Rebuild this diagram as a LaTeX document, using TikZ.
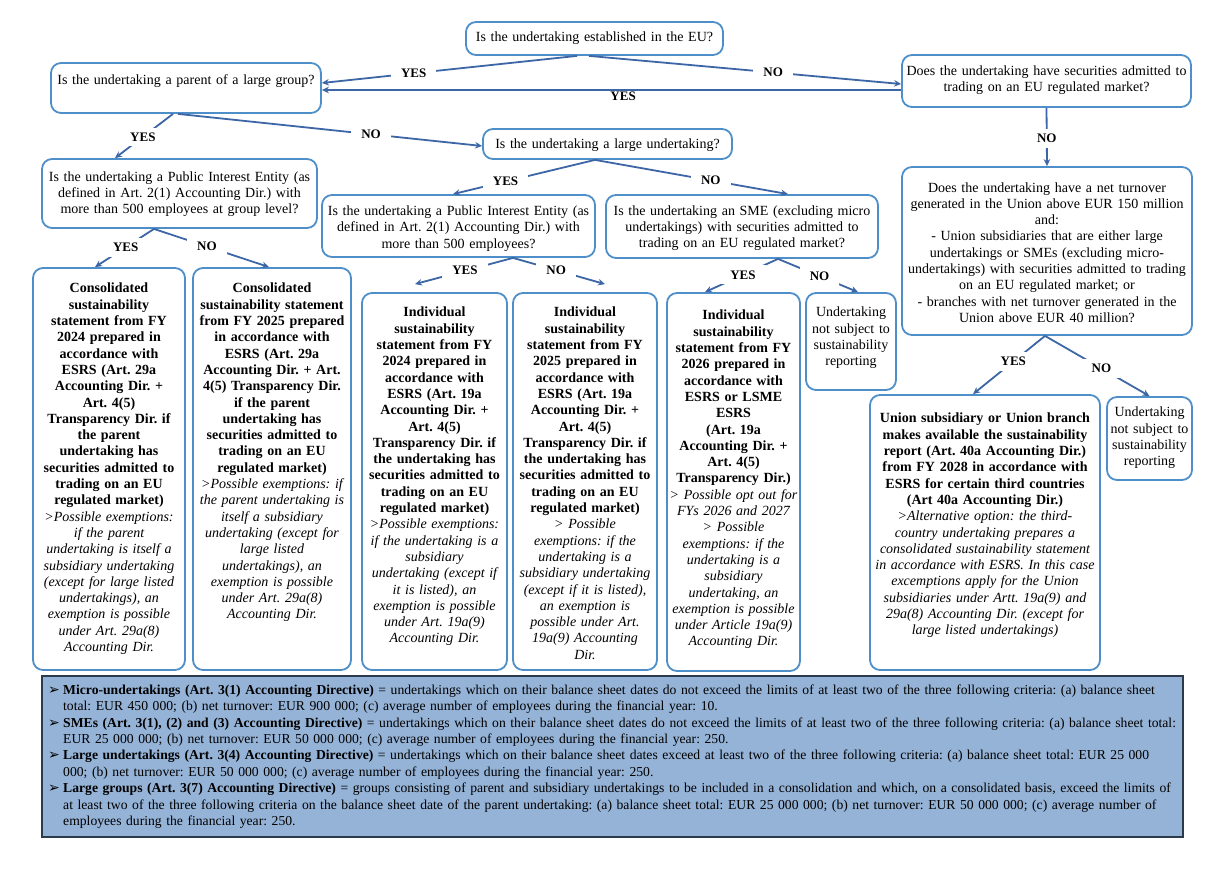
\documentclass[tikz,border=0pt]{standalone}
\usepackage{fontspec}
\setmainfont{Liberation Serif}
\newfontfamily\dejavu{DejaVu Sans}
\usetikzlibrary{arrows.meta}
\definecolor{boxblue}{HTML}{4F8FC9}
\definecolor{arrblue}{HTML}{3C66A6}
\definecolor{legfill}{HTML}{95B3D7}
\definecolor{legline}{HTML}{2B3A4C}
\newcommand{\legbul}{\makebox[15pt][l]{\dejavu\fontsize{14}{14}\selectfont ➢}}
\newcommand{\legind}{\hspace*{15pt}}
\frenchspacing
\begin{document}
\frenchspacing
\begin{tikzpicture}[x=1pt,y=-1pt,
 qbox/.style={draw=boxblue, line width=1.8pt, rounded corners=10pt, fill=white, inner sep=0pt},
 txt/.style={font=\fontsize{14}{16.3}\selectfont, align=center, inner sep=0pt},
 conn/.style={draw=arrblue, line width=1.8pt},
 arr/.style={conn, -{Stealth[length=7pt,width=6.5pt]}},
 lbl/.style={font=\fontsize{13}{15}\selectfont\bfseries, fill=white, inner xsep=10pt, inner ysep=5pt},
 lblb/.style={font=\fontsize{13}{15}\selectfont\bfseries, inner sep=1pt},
]
\useasboundingbox (0,0) rectangle (1222,872);
\fill[white] (0,0) rectangle (1222,872);

% ---------- question boxes ----------
\node[qbox, minimum width=257pt, minimum height=33pt] (A) at (594.5,38.5) {};
\node[txt, text width=277pt] (At) at (594.5,38) {Is the undertaking established in the EU?};

\node[qbox, minimum width=270pt, minimum height=50pt] (B) at (186,88) {};
\node[txt, text width=290pt] (Bt) at (186,81) {Is the undertaking a parent of a large group?};

\node[qbox, minimum width=289pt, minimum height=52pt] (C) at (1046.5,81) {};
\node[txt, text width=309pt] (Ct) at (1046.5,80) {Does the undertaking have securities admitted to\\ trading on an EU regulated market?};

\node[qbox, minimum width=249pt, minimum height=30pt] (D) at (607.5,144) {};
\node[txt, text width=269pt] (Dt) at (607.5,145) {Is the undertaking a large undertaking?};

\node[qbox, minimum width=275pt, minimum height=69pt] (E) at (179.5,193.5) {};
\node[txt, text width=295pt] (Et) at (179.5,194) {Is the undertaking a Public Interest Entity (as\\ defined in Art. 2(1) Accounting Dir.) with\\ more than 500 employees at group level?};

\node[qbox, minimum width=273pt, minimum height=62pt] (F) at (458.5,226) {};
\node[txt, text width=293pt] (Ft) at (458.5,228.5) {Is the undertaking a Public Interest Entity (as\\ defined in Art. 2(1) Accounting Dir.) with\\ more than 500 employees?};

\node[qbox, minimum width=272pt, minimum height=63pt] (G) at (742,226.5) {};
\node[txt, text width=292pt] (Gt) at (742,228) {Is the undertaking an SME (excluding micro\\ undertakings) with securities admitted to\\ trading on an EU regulated market?};

\node[qbox, minimum width=290pt, minimum height=168pt] (H) at (1047,251) {};
\node[txt, text width=310pt] (Ht) at (1047,252.5) {Does the undertaking have a net turnover\\ generated in the Union above EUR 150 million\\ and:\\ - Union subsidiaries that are either large\\ undertakings or SMEs (excluding micro-\\ undertakings) with securities admitted to trading\\ on an EU regulated market; or\\ - branches with net turnover generated in the\\ Union above EUR 40 million?};

% ---------- outcome boxes ----------
\node[qbox, minimum width=152pt, minimum height=402pt] (L1) at (109,469) {};
\node[txt, text width=172pt, anchor=north] (L1t) at (109,283) {\bfseries Consolidated\\ sustainability\\ statement from FY\\ 2024 prepared in\\ accordance with\\ ESRS (Art. 29a\\ Accounting Dir. +\\ Art. 4(5)\\ Transparency Dir. if\\ the parent\\ undertaking has\\ securities admitted to\\ trading on an EU\\ regulated market)\\ \mdseries\itshape >Possible exemptions:\\ if the parent\\ undertaking is itself a\\ subsidiary undertaking\\ (except for large listed\\ undertakings), an\\ exemption is possible\\ under Art. 29a(8)\\ Accounting Dir.};

\node[qbox, minimum width=158pt, minimum height=402pt] (L2) at (272,469) {};
\node[txt, text width=178pt, anchor=north] (L2t) at (272,283) {\bfseries Consolidated\\ sustainability statement\\ from FY 2025 prepared\\ in accordance with\\ ESRS (Art. 29a\\ Accounting Dir. + Art.\\ 4(5) Transparency Dir.\\ if the parent\\ undertaking has\\ securities admitted to\\ trading on an EU\\ regulated market)\\ \mdseries\itshape >Possible exemptions: if\\ the parent undertaking is\\ itself a subsidiary\\ undertaking (except for\\ large listed\\ undertakings), an\\ exemption is possible\\ under Art. 29a(8)\\ Accounting Dir.};

\node[qbox, minimum width=145pt, minimum height=377pt] (L3) at (434.5,481.5) {};
\node[txt, text width=165pt, anchor=north] (L3t) at (434.5,307) {\bfseries Individual\\ sustainability\\ statement from FY\\ 2024 prepared in\\ accordance with\\ ESRS (Art. 19a\\ Accounting Dir. +\\ Art. 4(5)\\ Transparency Dir. if\\ the undertaking has\\ securities admitted to\\ trading on an EU\\ regulated market)\\ \mdseries\itshape >Possible exemptions:\\ if the undertaking is a\\ subsidiary\\ undertaking (except if\\ it is listed), an\\ exemption is possible\\ under Art. 19a(9)\\ Accounting Dir.};

\node[qbox, minimum width=144pt, minimum height=377pt] (L4) at (585,481.5) {};
\node[txt, text width=164pt, anchor=north] (L4t) at (585,307) {\bfseries Individual\\ sustainability\\ statement from FY\\ 2025 prepared in\\ accordance with\\ ESRS (Art. 19a\\ Accounting Dir. +\\ Art. 4(5)\\ Transparency Dir. if\\ the undertaking has\\ securities admitted to\\ trading on an EU\\ regulated market)\\ \mdseries\itshape > Possible\\ exemptions: if the\\ undertaking is a\\ subsidiary undertaking\\ (except if it is listed),\\ an exemption is\\ possible under Art.\\ 19a(9) Accounting\\ Dir.};

\node[qbox, minimum width=133pt, minimum height=378pt] (L5) at (733.5,482) {};
\node[txt, text width=153pt, anchor=north] (L5t) at (733.5,310) {\bfseries Individual\\ sustainability\\ statement from FY\\ 2026 prepared in\\ accordance with\\ ESRS or LSME\\ ESRS\\ (Art. 19a\\ Accounting Dir. +\\ Art. 4(5)\\ Transparency Dir.)\\ \mdseries\itshape > Possible opt out for\\ FYs 2026 and 2027\\ > Possible\\ exemptions: if the\\ undertaking is a\\ subsidiary\\ undertaking, an\\ exemption is possible\\ under Article 19a(9)\\ Accounting Dir.};

\node[qbox, minimum width=90pt, minimum height=97pt] (L6) at (851,341.5) {};
\node[txt, text width=100pt] (L6t) at (851,338) {Undertaking\\ not subject to\\ sustainability\\ reporting};

\node[qbox, minimum width=230pt, minimum height=275pt] (R1) at (985,532.5) {};
\node[txt, text width=250pt, anchor=north] (R1t) at (985,413) {\bfseries Union subsidiary or Union branch\\ makes available the sustainability\\ report (Art. 40a Accounting Dir.)\\ from FY 2028 in accordance with\\ ESRS for certain third countries\\ (Art 40a Accounting Dir.)\\ \mdseries\itshape >Alternative option: the third-\\ country undertaking prepares a\\ consolidated sustainability statement\\ in accordance with ESRS. In this case\\ excemptions apply for the Union\\ subsidiaries under Artt. 19a(9) and\\ 29a(8) Accounting Dir. (except for\\ large listed undertakings)};

\node[qbox, minimum width=85pt, minimum height=83pt] (R2) at (1149.5,438.5) {};
\node[txt, text width=100pt] (R2t) at (1149.5,438) {Undertaking\\ not subject to\\ sustainability\\ reporting};

% ---------- connectors ----------
\draw[arr] ([xshift=-17.5pt]A.south) -- node[lbl, pos=0.64] (yAB) {YES} ([yshift=5pt]B.east);
\draw[arr] ([xshift=-5.5pt]A.south) -- node[lbl, pos=0.59] (nAC) {NO} ([yshift=-3pt]C.west);
\draw[arr] ([yshift=-9pt]C.west) -- node[lblb, pos=0.48, below=0pt] (yCB) {YES} ([yshift=-2pt]B.east);
\draw[arr] (C.south) -- node[lbl, pos=0.52] (nCH) {NO} (H.north);
\draw[arr] ([xshift=-13pt]B.south) -- node[lbl, pos=0.52] (yBE) {YES} ([xshift=-64.5pt]E.north);
\draw[arr] ([xshift=-8pt]B.south) -- node[lbl, pos=0.635] (nBD) {NO} ([yshift=-2pt]D.west);
\draw[arr] ([xshift=-12.5pt]D.south) -- node[lbl, pos=0.63] (yDF) {YES} ([xshift=-5.5pt]F.north);
\draw[arr] ([xshift=-12.5pt]D.south) -- node[lbl, pos=0.6] (nDG) {NO} ([xshift=46pt]G.north);
\draw[arr] ([xshift=-25.5pt]E.south) -- node[lbl, pos=0.48] (yEL) {YES} ([xshift=-14pt]L1.north);
\draw[arr] ([xshift=-25.5pt]E.south) -- node[lbl, pos=0.46] (nEL) {NO} ([xshift=-3pt]L2.north);
\draw[arr] ([xshift=54.5pt]F.south) -- node[lbl, pos=0.49] (yFL) {YES} ([xshift=-19.5pt,yshift=8pt]L3.north);
\draw[arr] ([xshift=54.5pt]F.south) -- node[lbl, pos=0.47] (nFL) {NO} ([xshift=20pt,yshift=8pt]L4.north);
\draw[arr] ([xshift=36pt]G.south) -- node[lbl, pos=0.48] (yGL) {YES} ([xshift=-28.5pt]L5.north);
\draw[arr] ([xshift=36pt]G.south) -- node[lbl, pos=0.52] (nGL) {NO} ([xshift=7pt]L6.north);
\draw[arr] ([xshift=-2pt]H.south) -- node[lbl, pos=0.44] (yHR) {YES} ([xshift=-12pt]R1.north);
\draw[arr] ([xshift=-2pt]H.south) -- node[lbl, pos=0.54] (nHR) {NO} (R2.north);

% ---------- legend ----------
\node[draw=legline, fill=legfill, line width=2pt, minimum width=1141pt, minimum height=161pt, inner sep=0pt] (leg) at (612.5,756.5) {};
\node[anchor=north west, inner sep=0pt, font=\fontsize{13.65}{16.4}\selectfont\frenchspacing, text width=1135pt, align=left] (legt) at (48,684.5) {%
\mbox{\legbul\textbf{Micro-undertakings (Art. 3(1) Accounting Directive)} = undertakings which on their balance sheet dates do not exceed the limits of at least two of the three following criteria: (a) balance sheet}\\
\mbox{\legind total: EUR 450 000; (b) net turnover: EUR 900 000; (c) average number of employees during the financial year: 10.}\\
\mbox{\legbul\textbf{SMEs (Art. 3(1), (2) and (3) Accounting Directive)} = undertakings which on their balance sheet dates do not exceed the limits of at least two of the three following criteria: (a) balance sheet total:}\\
\mbox{\legind EUR 25 000 000; (b) net turnover: EUR 50 000 000; (c) average number of employees during the financial year: 250.}\\
\mbox{\legbul\textbf{Large undertakings (Art. 3(4) Accounting Directive)} = undertakings which on their balance sheet dates exceed at least two of the three following criteria: (a) balance sheet total: EUR 25 000}\\
\mbox{\legind 000; (b) net turnover: EUR 50 000 000; (c) average number of employees during the financial year: 250.}\\
\mbox{\legbul\textbf{Large groups (Art. 3(7) Accounting Directive)} = groups consisting of parent and subsidiary undertakings to be included in a consolidation and which, on a consolidated basis, exceed the limits of}\\
\mbox{\legind at least two of the three following criteria on the balance sheet date of the parent undertaking: (a) balance sheet total: EUR 25 000 000; (b) net turnover: EUR 50 000 000; (c) average number of}\\
\mbox{\legind employees during the financial year: 250.}};
\end{tikzpicture}
\end{document}
